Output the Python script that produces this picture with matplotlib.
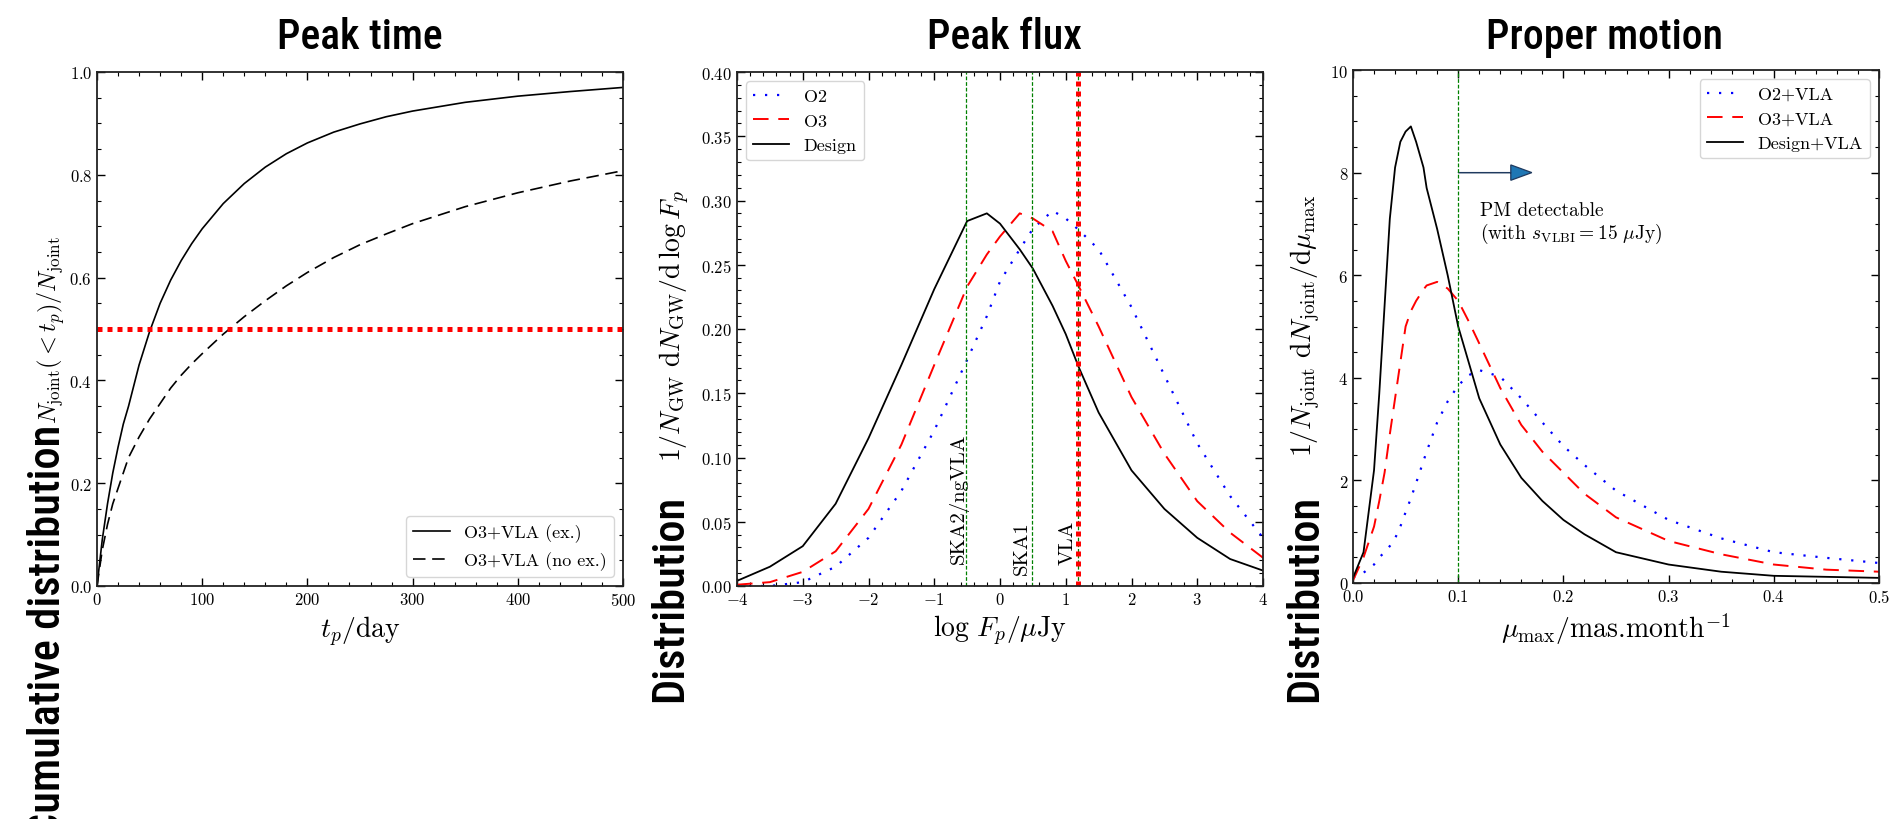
import matplotlib
matplotlib.use('Agg')
import matplotlib.pyplot as plt
from matplotlib import font_manager
from matplotlib.font_manager import FontProperties
from matplotlib.ticker import MultipleLocator

# --- data ---
t_days = [0, 5, 10, 15, 20, 25, 30, 40, 50, 60, 70, 80, 90, 100, 120, 140, 160, 180, 200,
          225, 250, 275, 300, 350, 400, 450, 500]
cum_ex = [0, 0.09, 0.16, 0.22, 0.27, 0.315, 0.35, 0.43, 0.495, 0.55, 0.595, 0.633, 0.666, 0.695,
          0.744, 0.783, 0.815, 0.841, 0.862, 0.883, 0.899, 0.913, 0.924, 0.941, 0.953, 0.962, 0.97]
cum_noex = [0, 0.07, 0.12, 0.16, 0.19, 0.22, 0.25, 0.29, 0.325, 0.355, 0.385, 0.41, 0.432, 0.452,
            0.49, 0.524, 0.555, 0.584, 0.61, 0.639, 0.664, 0.685, 0.705, 0.738, 0.765, 0.788, 0.808]
half_level = 0.5

logF = [-4, -3.5, -3, -2.5, -2, -1.5, -1, -0.5, -0.2, 0, 0.3, 0.5, 0.8, 1, 1.2, 1.5, 2, 2.5, 3, 3.5, 4]
flux_o2 = [0, 0, 0.003, 0.015, 0.0375, 0.074, 0.121, 0.176, 0.21, 0.237, 0.262, 0.278, 0.292, 0.286,
           0.277, 0.262, 0.217, 0.164, 0.111, 0.07, 0.0375]
flux_o3 = [0.001, 0.003, 0.011, 0.027, 0.06, 0.11, 0.172, 0.233, 0.258, 0.272, 0.29, 0.286, 0.276,
           0.253, 0.233, 0.202, 0.147, 0.103, 0.066, 0.0415, 0.022]
flux_design = [0.004, 0.015, 0.031, 0.064, 0.115, 0.172, 0.231, 0.284, 0.29, 0.282, 0.262, 0.247,
               0.218, 0.196, 0.17, 0.135, 0.09, 0.06, 0.0375, 0.021, 0.012]
sens_names = ['SKA2/ngVLA', 'SKA1', 'VLA']
sens_logF = [-0.52, 0.48, 1.18]

mu = [0, 0.01, 0.02, 0.025, 0.03, 0.035, 0.04, 0.045, 0.05, 0.055, 0.06, 0.067, 0.07, 0.08, 0.09,
      0.1, 0.11, 0.12, 0.14, 0.16, 0.18, 0.2, 0.22, 0.25, 0.3, 0.35, 0.4, 0.45, 0.5]
pm_o2 = [0.1, 0.2, 0.36, 0.5, 0.6, 0.72, 0.87, 1.1, 1.38, 1.65, 1.95, 2.38, 2.56, 3.13, 3.54,
         3.85, 4.05, 4.15, 4.02, 3.6, 3.13, 2.67, 2.3, 1.8, 1.23, 0.87, 0.6, 0.49, 0.39]
pm_o3 = [0.05, 0.5, 1.1, 1.6, 2.15, 2.9, 3.6, 4.3, 5.0, 5.3, 5.5, 5.72, 5.8, 5.87, 5.74,
         5.5, 5.1, 4.67, 3.8, 3.08, 2.56, 2.15, 1.74, 1.28, 0.82, 0.56, 0.36, 0.26, 0.22]
pm_design = [0.1, 0.6, 2.2, 3.7, 5.4, 7.1, 8.1, 8.6, 8.8, 8.9, 8.6, 8.1, 7.7, 6.9, 6.0,
             5.0, 4.3, 3.6, 2.7, 2.05, 1.6, 1.23, 0.95, 0.6, 0.36, 0.22, 0.14, 0.12, 0.1]
pm_limit = 0.1

plt.rcParams['font.family'] = 'serif'
plt.rcParams['font.serif'] = ['cmr10']
plt.rcParams['mathtext.fontset'] = 'cm'
plt.rcParams['axes.formatter.use_mathtext'] = True


def weight_num(w):
    if isinstance(w, int):
        return w
    return {'normal': 400, 'regular': 400, 'book': 400, 'medium': 500, 'semibold': 600,
            'demibold': 600, 'bold': 700}.get(str(w).lower(), 400)


def pick_condensed():
    # a condensed sans close to the slide font, medium weight if there is one
    prefs = ['Liberation Sans Narrow', 'Roboto Condensed', 'Roboto Condensed Medium',
             'DejaVu Sans Condensed', 'Noto Sans Condensed', 'Noto Sans Condensed Medium',
             'Open Sans Condensed']
    fonts = [f for f in font_manager.fontManager.ttflist if f.style == 'normal']
    cands = [f for f in fonts if f.name in prefs]
    if not cands:
        cands = [f for f in fonts if str(f.stretch) in ('condensed', 'semi-condensed')]
    cands = [f for f in cands if 400 <= weight_num(f.weight) <= 500]
    if cands:
        cands.sort(key=lambda f: (prefs.index(f.name.replace(' Medium', ''))
                                  if f.name.replace(' Medium', '') in prefs else 99,
                                  abs(weight_num(f.weight) - 500)))
        return FontProperties(fname=cands[0].fname)
    return FontProperties(family='Liberation Sans')


big_fp = pick_condensed()

W, H = 1893, 820
fig = plt.figure(figsize=(W / 100, H / 100), dpi=100)


def px_axes(x0, y0, x1, y1):
    return fig.add_axes([x0 / W, 1 - y1 / H, (x1 - x0) / W, (y1 - y0) / H])


def style(ax, xmaj, xmin, ymaj, ymin):
    ax.xaxis.set_major_locator(MultipleLocator(xmaj))
    ax.xaxis.set_minor_locator(MultipleLocator(xmin))
    ax.yaxis.set_major_locator(MultipleLocator(ymaj))
    ax.yaxis.set_minor_locator(MultipleLocator(ymin))
    ax.tick_params(which='both', direction='in', top=True, right=True, labelsize=12)
    ax.tick_params(which='major', length=6, width=1)
    ax.tick_params(which='minor', length=3, width=0.8)
    for s in ax.spines.values():
        s.set_linewidth(1.3)
        s.set_color('#222222')


leg_kw = dict(fontsize=13, fancybox=True, edgecolor='0.8', framealpha=0.8)

# panel 1: peak time
ax1 = px_axes(97, 73, 623, 587)
ax1.plot(t_days, cum_ex, color='k', lw=1.2, label='O3+VLA (ex.)')
ax1.plot(t_days, cum_noex, color='k', lw=1.2, dashes=(7.5, 4), label='O3+VLA (no ex.)')
ax1.axhline(half_level, color='r', lw=3.6, dashes=(1, 1))
ax1.set_xlim(0, 500)
ax1.set_ylim(0, 1)
style(ax1, 100, 20, 0.2, 0.05)
ax1.set_xlabel(r'$t_p/{\rm day}$', fontsize=20)
ax1.legend(loc='lower right', **leg_kw)

# panel 2: peak flux
ax2 = px_axes(737, 73, 1263, 587)
ax2.plot(logF, flux_o2, color='b', lw=1.6, dashes=(1, 4.4), label='O2')
ax2.plot(logF, flux_o3, color='r', lw=1.4, dashes=(8, 5), label='O3')
ax2.plot(logF, flux_design, color='k', lw=1.3, label='Design')
for xv in sens_logF:
    ax2.axvline(xv, color='g', lw=0.9, dashes=(3, 1.5))
ax2.axvline(sens_logF[2], color='r', lw=3.6, dashes=(1, 1))
ax2.text(-0.63, 0.018, sens_names[0], rotation=90, ha='center', va='bottom', fontsize=15)
ax2.text(0.34, 0.009, sens_names[1], rotation=90, ha='center', va='bottom', fontsize=15)
ax2.text(1.03, 0.017, sens_names[2], rotation=90, ha='center', va='bottom', fontsize=15)
ax2.set_xlim(-4, 4)
ax2.set_ylim(0, 0.4)
style(ax2, 1, 0.2, 0.05, 0.01)
ax2.set_xlabel(r'$\log\,F_p/\mu{\rm Jy}$', fontsize=20)
ax2.legend(loc='upper left', **leg_kw)

# panel 3: proper motion
ax3 = px_axes(1353, 71, 1879, 584)
ax3.plot(mu, pm_o2, color='b', lw=1.6, dashes=(1, 4.4), label='O2+VLA')
ax3.plot(mu, pm_o3, color='r', lw=1.4, dashes=(8, 5), label='O3+VLA')
ax3.plot(mu, pm_design, color='k', lw=1.3, label='Design+VLA')
ax3.axvline(pm_limit, color='g', lw=0.9, dashes=(3, 1.5))
ax3.arrow(pm_limit, 8, 0.05, 0, head_width=0.3, head_length=0.02, fc='#1f77b4', ec='#1f3a5f',
          lw=0.9, length_includes_head=False)
ax3.text(0.121, 7.45, 'PM detectable\n(with $s_{\\rm VLBI} = 15\\ \\mu$Jy)', ha='left', va='top',
         fontsize=14, linespacing=1.1)
ax3.set_xlim(0, 0.5)
ax3.set_ylim(0, 10)
style(ax3, 0.1, 0.02, 2, 0.5)
ax3.set_xlabel(r'$\mu_{\rm max}/$mas.month$^{-1}$', fontsize=20)
ax3.legend(loc='upper right', **leg_kw)

# y labels: math part plus the large overlay words
fig.text(51 / W, 1 - 330 / H, r'$N_{\rm joint}(<t_p)/N_{\rm joint}$', rotation=90,
         ha='center', va='center', fontsize=17.5)
fig.text(675 / W, 1 - 326 / H, r'$1/N_{\rm GW}\ {\rm d}N_{\rm GW}/{\rm d}\,\log F_p$', rotation=90,
         ha='center', va='center', fontsize=20)
fig.text(1305 / W, 1 - 326 / H, r'$1/N_{\rm joint}\ {\rm d}N_{\rm joint}/{\rm d}\mu_{\rm max}$',
         rotation=90, ha='center', va='center', fontsize=20)

big = dict(fontproperties=big_fp, rotation=90, rotation_mode='anchor', ha='left', va='baseline')
for s, x, y in [('Cumulative distribution', 60, 838), ('Distribution', 682, 702),
                ('Distribution', 1317, 702)]:
    t = fig.text(x / W, 1 - y / H, s, **big)
    t.set_fontsize(32)

for s, x in [('Peak time', 360), ('Peak flux', 1004), ('Proper motion', 1605)]:
    t = fig.text(x / W, 1 - 49 / H, s, fontproperties=big_fp, ha='center', va='baseline')
    t.set_fontsize(30)

fig.savefig('out.png', dpi=100)
